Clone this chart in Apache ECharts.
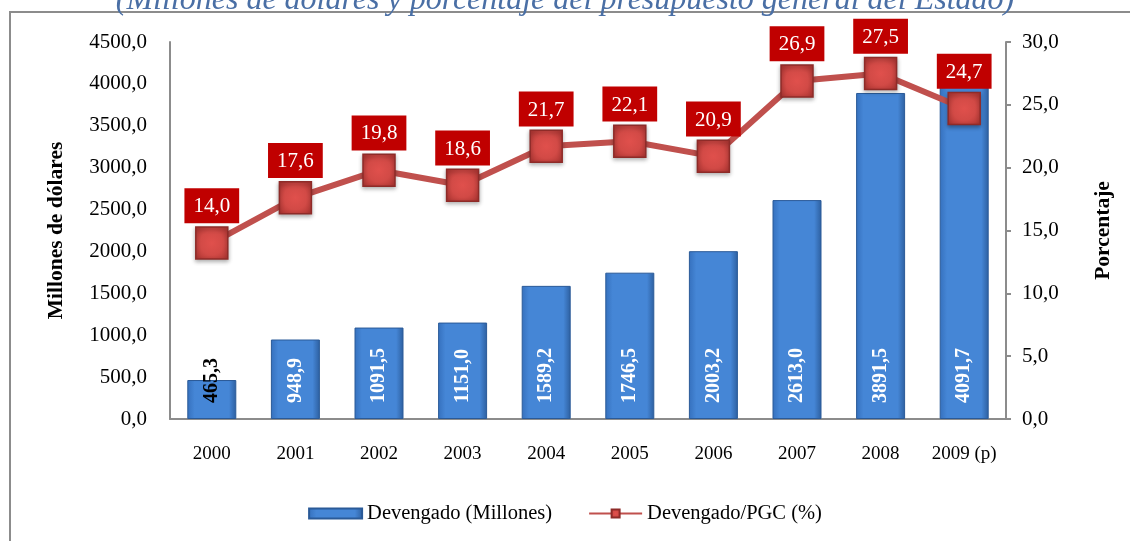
<!DOCTYPE html>
<html>
<head>
<meta charset="utf-8">
<script src="https://cdn.jsdelivr.net/npm/echarts@6/dist/echarts.min.js"></script>
<style>
  html, body { margin: 0; padding: 0; background: #fff; }
  #chart { width: 1130px; height: 541px; }
</style>
</head>
<body>
<div id="chart"></div>
<script>
const years = ["2000", "2001", "2002", "2003", "2004", "2005", "2006", "2007", "2008", "2009 (p)"];
const devengado = [465.3, 948.9, 1091.5, 1151.0, 1589.2, 1746.5, 2003.2, 2613.0, 3891.5, 4091.7];
const porcentaje = [14.0, 17.6, 19.8, 18.6, 21.7, 22.1, 20.9, 26.9, 27.5, 24.7];

const fmt = (v) => Number(v).toFixed(1).replace(".", ",");
const serif = "'Liberation Serif', 'DejaVu Serif', serif";

const chart = echarts.init(document.getElementById("chart"));

// the first bar is too short, so its label is drawn in black
const barData = devengado.map((v, i) => {
  if (i === 0) {
    return { value: v, label: { color: "#000" } };
  }
  return v;
});

const option = {
  backgroundColor: "#fff",
  animation: false,
  textStyle: { fontFamily: serif },
  title: {
    text: "(Millones de dólares y porcentaje del presupuesto general del Estado)",
    left: "center",
    top: -20,
    textStyle: {
      fontFamily: serif,
      fontStyle: "italic",
      fontWeight: "normal",
      fontSize: 32,
      color: "#4a6fa5",
    },
  },
  graphic: [
    {
      type: "rect",
      shape: { x: 10, y: 12, width: 1140, height: 560 },
      style: { fill: "none", stroke: "#8c8c8c", lineWidth: 2 },
      z: -1,
    },
  ],
  legend: {
    bottom: 12,
    left: "center",
    itemWidth: 53,
    itemHeight: 10,
    itemGap: 36,
    textStyle: { fontFamily: serif, fontSize: 20.5, color: "#000" },
    data: [
      { name: "Devengado (Millones)", icon: "rect" },
      { name: "Devengado/PGC (%)" },
    ],
  },
  grid: {
    left: 170,
    right: 124,
    top: 42,
    bottom: 122,
  },
  xAxis: {
    type: "category",
    data: years,
    axisLine: { lineStyle: { color: "#8c8c8c", width: 2 } },
    axisTick: { show: false },
    axisLabel: {
      interval: 0,
      color: "#000",
      fontFamily: serif,
      fontSize: 19,
      margin: 26,
    },
  },
  yAxis: [
    {
      type: "value",
      min: 0,
      max: 4500,
      interval: 500,
      name: "Millones de dólares",
      nameLocation: "middle",
      nameGap: 103,
      nameTextStyle: { fontFamily: serif, fontSize: 21.5, fontWeight: "bold", color: "#000" },
      axisLine: { show: true, lineStyle: { color: "#8c8c8c", width: 2 } },
      axisTick: { show: false },
      splitLine: { show: false },
      axisLabel: {
        color: "#000",
        fontFamily: serif,
        fontSize: 21,
        margin: 23,
        formatter: fmt,
      },
    },
    {
      type: "value",
      min: 0,
      max: 30,
      interval: 5,
      name: "Porcentaje",
      nameLocation: "middle",
      nameGap: 86,
      nameTextStyle: { fontFamily: serif, fontSize: 21.5, fontWeight: "bold", color: "#000" },
      axisLine: { show: true, lineStyle: { color: "#8c8c8c", width: 2 } },
      axisTick: { show: true, length: 5, lineStyle: { color: "#8c8c8c", width: 2 } },
      splitLine: { show: false },
      axisLabel: {
        color: "#000",
        fontFamily: serif,
        fontSize: 21,
        margin: 16,
        formatter: fmt,
      },
    },
  ],
  series: [
    {
      name: "Devengado (Millones)",
      type: "bar",
      yAxisIndex: 0,
      barWidth: 49,
      data: barData,
      itemStyle: {
        color: new echarts.graphic.LinearGradient(0, 0, 1, 0, [
          { offset: 0, color: "#3570bd" },
          { offset: 0.15, color: "#4586d6" },
          { offset: 0.85, color: "#4586d6" },
          { offset: 1, color: "#2d5f9f" },
        ]),
        borderColor: "#2a5a98",
        borderWidth: 1,
      },
      label: {
        show: true,
        position: "insideBottom",
        distance: 16,
        rotate: 90,
        align: "left",
        verticalAlign: "middle",
        color: "#fff",
        fontFamily: serif,
        fontWeight: "bold",
        fontSize: 20,
        formatter: (p) => fmt(p.value),
      },
      z: 2,
    },
    {
      name: "Devengado/PGC (%)",
      type: "line",
      yAxisIndex: 1,
      data: porcentaje,
      symbol: "rect",
      symbolSize: 32,
      lineStyle: { color: "#c0504d", width: 6 },
      itemStyle: {
        color: new echarts.graphic.RadialGradient(0.5, 0.5, 0.7, [
          { offset: 0, color: "#e0504c" },
          { offset: 0.5, color: "#d24a46" },
          { offset: 1, color: "#a8322f" },
        ]),
        borderColor: "#8e2b28",
        borderWidth: 1.5,
        shadowColor: "rgba(0,0,0,0.3)",
        shadowBlur: 4,
        shadowOffsetY: 2,
      },
      label: {
        show: true,
        position: "top",
        distance: 3,
        color: "#fff",
        backgroundColor: "#c00000",
        padding: [8, 9, 6, 9],
        fontFamily: serif,
        fontSize: 21,
        formatter: (p) => fmt(p.value),
      },
      z: 3,
    },
  ],
};

chart.setOption(option);
window.addEventListener("resize", () => chart.resize());
</script>
</body>
</html>
